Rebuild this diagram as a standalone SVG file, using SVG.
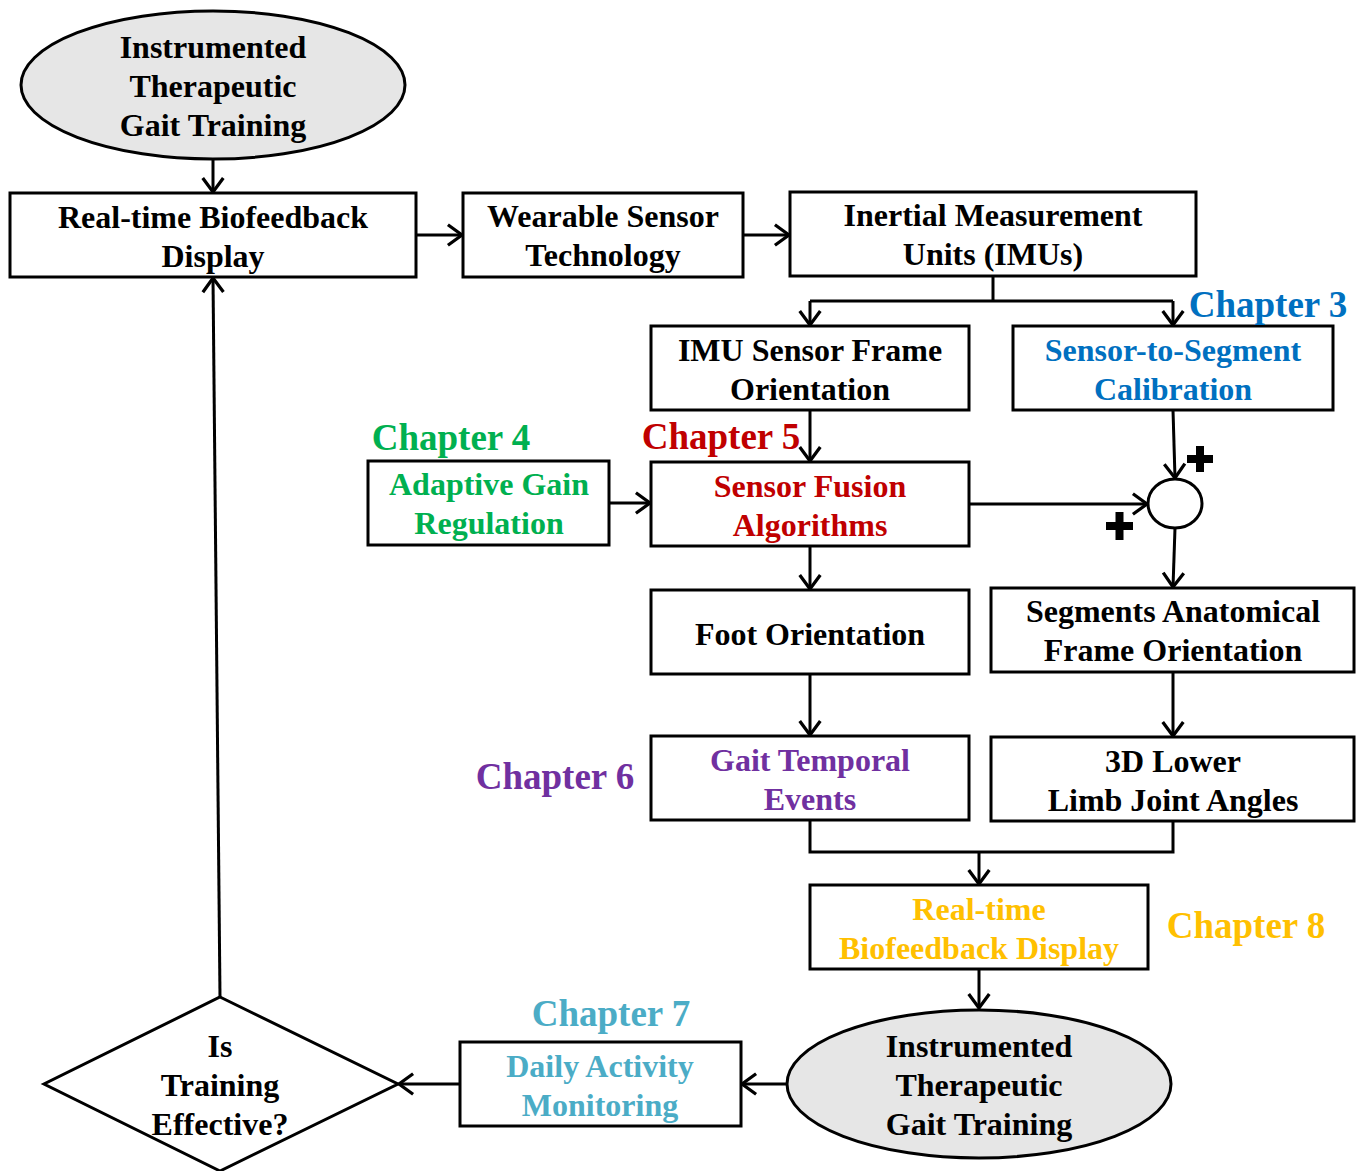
<svg xmlns="http://www.w3.org/2000/svg" width="1364" height="1171" viewBox="0 0 1364 1171">
  <defs>
    <marker id="arrow" markerUnits="userSpaceOnUse" markerWidth="26" markerHeight="26" viewBox="-16 -12 18 24" refX="0" refY="0" orient="auto">
      <path d="M-13,-9.5 L0,0 L-13,9.5" fill="none" stroke="#000" stroke-width="3" stroke-linejoin="miter"/>
    </marker>
  </defs>
  <style>
    .box { fill: #fff; stroke: #000; stroke-width: 3; }
    .term { fill: #e6e6e6; stroke: #000; stroke-width: 3; }
    .t { font-family: "Liberation Serif", "Times New Roman", serif; font-weight: bold; font-size: 32px; text-anchor: middle; fill: #000; }
    .ch { font-family: "Liberation Serif", "Times New Roman", serif; font-weight: bold; font-size: 37px; text-anchor: middle; }
    .wire { fill: none; stroke: #000; stroke-width: 3; }
    .arr { fill: none; stroke: #000; stroke-width: 3; marker-end: url(#arrow); }
    .blue { fill: #0070C0; }
    .green { fill: #00B050; }
    .red { fill: #C00000; }
    .purple { fill: #7030A0; }
    .teal { fill: #4BACC6; }
    .yellow { fill: #FFC000; }
  </style>

  <!-- connectors -->
  <g id="connectors">
    <line class="arr" x1="213" y1="159" x2="213" y2="192"/>
    <line class="arr" x1="416" y1="235" x2="462" y2="235"/>
    <line class="arr" x1="743" y1="235" x2="789" y2="235"/>
    <polyline class="wire" points="993,276 993,301"/>
    <polyline class="arr" points="810,301 810,325"/>
    <polyline class="wire" points="810,301 1173,301"/>
    <polyline class="arr" points="1173,301 1173,325"/>
    <line class="arr" x1="810" y1="410" x2="810" y2="461"/>
    <line class="arr" x1="609" y1="503" x2="650" y2="503"/>
    <line class="arr" x1="969" y1="504" x2="1147" y2="504"/>
    <line class="arr" x1="1173" y1="410" x2="1175" y2="478"/>
    <line class="arr" x1="1175" y1="528" x2="1173" y2="587"/>
    <line class="arr" x1="810" y1="546" x2="810" y2="589"/>
    <line class="arr" x1="810" y1="674" x2="810" y2="735"/>
    <line class="arr" x1="1173" y1="672" x2="1173" y2="736"/>
    <polyline class="wire" points="810,820 810,852 1173,852 1173,821"/>
    <line class="arr" x1="979" y1="852" x2="979" y2="884"/>
    <line class="arr" x1="979" y1="969" x2="979" y2="1008"/>
    <line class="arr" x1="787" y1="1084" x2="742" y2="1084"/>
    <line class="arr" x1="460" y1="1084" x2="399" y2="1084"/>
    <line class="arr" x1="220" y1="997" x2="213" y2="278"/>
  </g>

  <!-- start terminal -->
  <g id="start">
    <ellipse class="term" cx="213" cy="85" rx="192" ry="74"/>
    <text class="t" x="213" y="58">Instrumented</text>
    <text class="t" x="213" y="97">Therapeutic</text>
    <text class="t" x="213" y="136">Gait Training</text>
  </g>

  <g id="display">
    <rect class="box" x="10" y="193" width="406" height="84"/>
    <text class="t" x="213" y="228">Real-time Biofeedback</text>
    <text class="t" x="213" y="267">Display</text>
  </g>

  <g id="wearable">
    <rect class="box" x="463" y="193" width="280" height="84"/>
    <text class="t" x="603" y="227">Wearable Sensor</text>
    <text class="t" x="603" y="266">Technology</text>
  </g>

  <g id="imus">
    <rect class="box" x="790" y="192" width="406" height="84"/>
    <text class="t" x="993" y="226">Inertial Measurement</text>
    <text class="t" x="993" y="265">Units (IMUs)</text>
  </g>

  <g id="imu-frame">
    <rect class="box" x="651" y="326" width="318" height="84"/>
    <text class="t" x="810" y="361">IMU Sensor Frame</text>
    <text class="t" x="810" y="400">Orientation</text>
  </g>

  <g id="calibration">
    <rect class="box" x="1013" y="326" width="320" height="84"/>
    <text class="t blue" x="1173" y="361">Sensor-to-Segment</text>
    <text class="t blue" x="1173" y="400">Calibration</text>
    <text class="ch blue" x="1268" y="317">Chapter 3</text>
  </g>

  <g id="gain">
    <rect class="box" x="368" y="461" width="241" height="84"/>
    <text class="t green" x="489" y="495">Adaptive Gain</text>
    <text class="t green" x="489" y="534">Regulation</text>
    <text class="ch green" x="451" y="450">Chapter 4</text>
  </g>

  <g id="fusion">
    <rect class="box" x="651" y="462" width="318" height="84"/>
    <text class="t red" x="810" y="497">Sensor Fusion</text>
    <text class="t red" x="810" y="536">Algorithms</text>
    <text class="ch red" x="721" y="449">Chapter 5</text>
  </g>

  <!-- summing junction -->
  <g id="sum">
    <ellipse cx="1175" cy="503.5" rx="27" ry="24.5" fill="#fff" stroke="#000" stroke-width="3"/>
    <path d="M1187,459 H1213 M1200,446 V472" stroke="#000" stroke-width="8" fill="none"/>
    <path d="M1106,526 H1133 M1119.5,512 V540" stroke="#000" stroke-width="8" fill="none"/>
  </g>

  <g id="foot">
    <rect class="box" x="651" y="590" width="318" height="84"/>
    <text class="t" x="810" y="645">Foot Orientation</text>
  </g>

  <g id="segments">
    <rect class="box" x="991" y="588" width="363" height="84"/>
    <text class="t" x="1173" y="622">Segments Anatomical</text>
    <text class="t" x="1173" y="661">Frame Orientation</text>
  </g>

  <g id="gait-events">
    <rect class="box" x="651" y="736" width="318" height="84"/>
    <text class="t purple" x="810" y="771">Gait Temporal</text>
    <text class="t purple" x="810" y="810">Events</text>
    <text class="ch purple" x="555" y="789">Chapter 6</text>
  </g>

  <g id="joint-angles">
    <rect class="box" x="991" y="737" width="363" height="84"/>
    <text class="t" x="1173" y="772">3D Lower</text>
    <text class="t" x="1173" y="811">Limb Joint Angles</text>
  </g>

  <g id="biofeedback">
    <rect class="box" x="810" y="885" width="338" height="84"/>
    <text class="t yellow" x="979" y="920">Real-time</text>
    <text class="t yellow" x="979" y="959">Biofeedback Display</text>
    <text class="ch yellow" x="1246" y="938">Chapter 8</text>
  </g>

  <!-- end terminal -->
  <g id="training">
    <ellipse class="term" cx="979" cy="1084" rx="192" ry="74"/>
    <text class="t" x="979" y="1057">Instrumented</text>
    <text class="t" x="979" y="1096">Therapeutic</text>
    <text class="t" x="979" y="1135">Gait Training</text>
  </g>

  <g id="activity">
    <rect class="box" x="460" y="1042" width="281" height="84"/>
    <text class="t teal" x="600" y="1077">Daily Activity</text>
    <text class="t teal" x="600" y="1116">Monitoring</text>
    <text class="ch teal" x="611" y="1026">Chapter 7</text>
  </g>

  <!-- decision -->
  <g id="decision">
    <polygon points="220,997 398,1084 220,1171 44,1084" fill="#fff" stroke="#000" stroke-width="3"/>
    <text class="t" x="220" y="1057">Is</text>
    <text class="t" x="220" y="1096">Training</text>
    <text class="t" x="220" y="1135">Effective?</text>
  </g>
</svg>
